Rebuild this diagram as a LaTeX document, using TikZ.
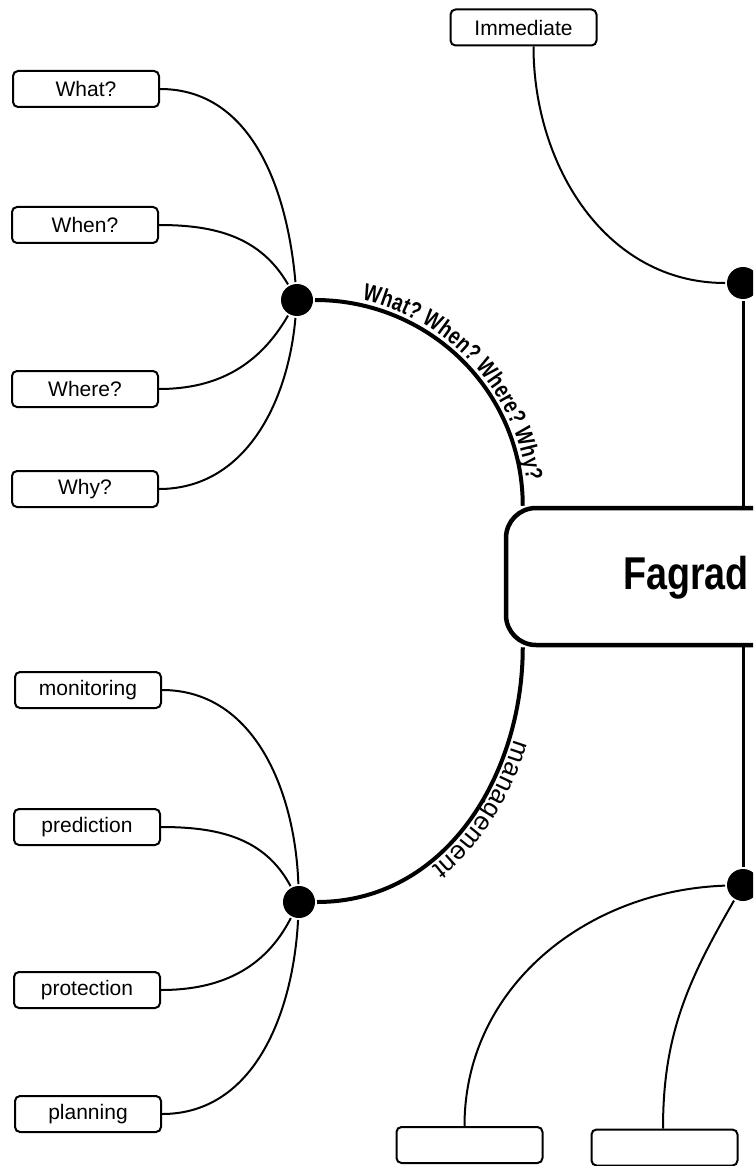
\documentclass[tikz,border=0pt]{standalone}
\usepackage{fontspec}
\setmainfont{Liberation Sans}
\newfontfamily\narrowfont[FakeStretch=0.82]{Liberation Sans}
\newfontfamily\curvefont[FakeStretch=0.78]{Liberation Sans}
\usetikzlibrary{decorations.text,calc}
\begin{document}
\begin{tikzpicture}[x=1pt,y=1pt,
  leaf/.style={draw, line width=2pt, rounded corners=5pt, minimum width=146pt,
    minimum height=36pt, inner sep=0pt, font=\fontsize{21}{25}\selectfont},
  hub/.style={circle, fill=black, minimum size=32pt, inner sep=0pt, outer sep=2pt},
  twig/.style={line width=2pt},
  limb/.style={line width=4pt},
  stem/.style={line width=3pt},
  mainbox/.style={draw, line width=4.5pt, rounded corners=30pt, minimum width=494pt,
    minimum height=137pt, inner sep=0pt}]
\useasboundingbox (0,0) rectangle (753,-1166);
\clip (0,0) rectangle (753,-1166);

% central box
\node[mainbox] (main) at (753,-576.5) {};
\node[anchor=base west, inner sep=0pt, font=\narrowfont\bfseries\fontsize{46}{50}\selectfont] (title) at (623,-589) {Fagrad};

% hubs
\node[hub] (hub1) at (297,-300) {};
\node[hub] (hub2) at (299,-902) {};
\node[hub] (hub3) at (743,-283) {};
\node[hub] (hub4) at (743,-885) {};

% leaves, upper left
\node[leaf] (what) at (86,-89) {What?};
\node[leaf] (when) at (85,-225) {When?};
\node[leaf] (where) at (85,-389) {Where?};
\node[leaf] (why) at (85,-489) {Why?};

% leaves, lower left
\node[leaf] (mon) at (88,-690) {monitoring};
\node[leaf] (pred) at (87,-827) {prediction};
\node[leaf] (prot) at (87,-990) {protection};
\node[leaf] (plan) at (88,-1114) {planning};

% leaves, right
\node[leaf] (imm) at (523.5,-27.5) {Immediate};
\node[leaf] (boxa) at (469.5,-1145) {};
\node[leaf] (boxb) at (664.5,-1147.5) {};

% twigs to hub1
\draw[twig] (what.east) to[out=0,in=95] (hub1);
\draw[twig] (when.east) to[out=0,in=120] (hub1);
\draw[twig] (where.east) to[out=0,in=240] (hub1);
\draw[twig] (why.east) to[out=0,in=265] (hub1);

% twigs to hub2
\draw[twig] (mon.east) to[out=0,in=92] (hub2);
\draw[twig] (pred.east) to[out=0,in=118] (hub2);
\draw[twig] (prot.east) to[out=0,in=243] (hub2);
\draw[twig] (plan.east) to[out=0,in=267] (hub2);

% right side
\draw[twig] ([xshift=10pt]imm.south) to[out=-90,in=180] (hub3);
\draw[twig] (hub4) to[out=182,in=90] ([xshift=-5pt]boxa.north);
\draw[twig] (hub4) to[out=240,in=90] ([xshift=-1.5pt]boxb.north);
\draw[stem] (hub3) -- (hub3 |- main.north);
\draw[stem] (hub4) -- (hub4 |- main.south);

% limbs with curved labels
\draw[limb, postaction={decorate, decoration={text along path,
    text align={left indent=46pt}, raise=5pt,
    text={|\curvefont\bfseries\fontsize{24}{28}\selectfont|What? When? Where? Why?}}}]
  (hub1) to[out=0,in=90] ($(main.north west)+(19,0)$);
\draw[limb, postaction={decorate, decoration={text along path,
    text align={left indent=92pt}, raise=5pt,
    text={|\fontsize{26}{30}\selectfont|management}}}]
  ($(main.south west)+(19,0)$) to[out=-90,in=0] (hub2);
\end{tikzpicture}
\end{document}
